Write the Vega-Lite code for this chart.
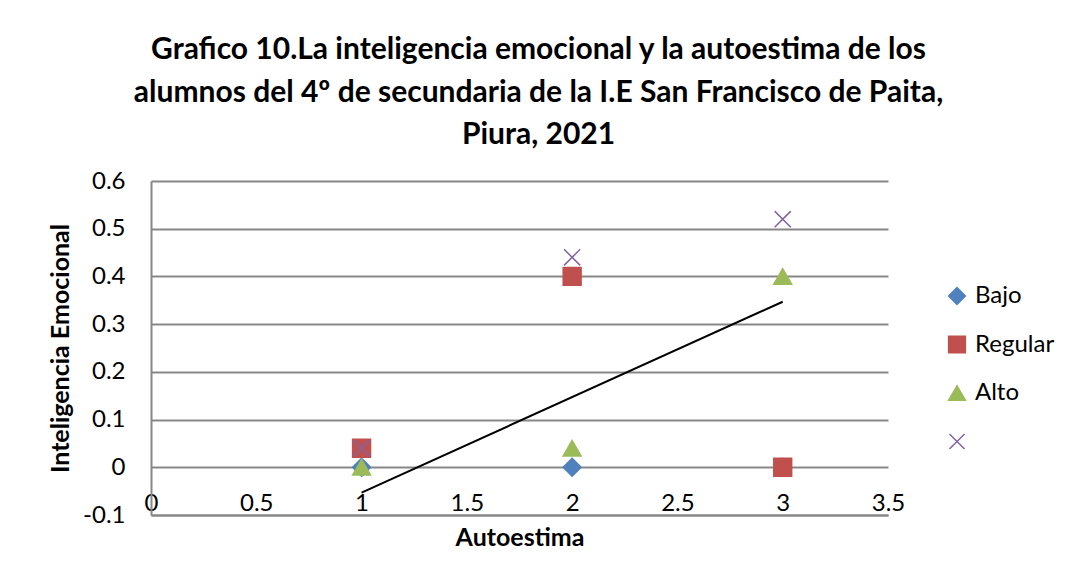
{
  "$schema": "https://vega.github.io/schema/vega-lite/v6.json",
  "width": 737,
  "height": 334,
  "autosize": {"type": "none"},
  "padding": {"left": 151, "top": 181, "right": 192, "bottom": 62},
  "background": "white",
  "config": {
    "font": "Lato",
    "view": {"stroke": null},
    "axis": {"labelColor": "black", "titleColor": "black", "labelFont": "Lato", "titleFont": "Lato"}
  },
  "title": {
    "text": ["Grafico  10.La inteligencia emocional y la autoestima de los", "alumnos del 4º de secundaria  de la I.E San Francisco de Paita,", "Piura, 2021"],
    "font": "Lato",
    "fontSize": 30,
    "fontWeight": "bold",
    "color": "black",
    "anchor": "middle",
    "frame": "group",
    "dx": 19,
    "offset": 19,
    "lineHeight": 42.5
  },
  "layer": [
    {
      "data": {"values": [
        {"Autoestima": 1, "Inteligencia": 0, "serie": "Bajo"},
        {"Autoestima": 2, "Inteligencia": 0, "serie": "Bajo"},
        {"Autoestima": 3, "Inteligencia": 0, "serie": "Bajo"},
        {"Autoestima": 1, "Inteligencia": 0.04, "serie": "Regular"},
        {"Autoestima": 2, "Inteligencia": 0.4, "serie": "Regular"},
        {"Autoestima": 3, "Inteligencia": 0, "serie": "Regular"},
        {"Autoestima": 1, "Inteligencia": 0, "serie": "Alto"},
        {"Autoestima": 2, "Inteligencia": 0.04, "serie": "Alto"},
        {"Autoestima": 3, "Inteligencia": 0.4, "serie": "Alto"},
        {"Autoestima": 1, "Inteligencia": 0.04, "serie": " "},
        {"Autoestima": 2, "Inteligencia": 0.44, "serie": " "},
        {"Autoestima": 3, "Inteligencia": 0.52, "serie": " "}
      ]},
      "mark": {"type": "point", "filled": true, "opacity": 1, "strokeWidth": 1.5, "size": 320},
      "encoding": {
        "x": {
          "field": "Autoestima", "type": "quantitative",
          "scale": {"domain": [0, 3.5], "nice": false, "zero": false},
          "axis": {
            "title": "Autoestima", "titleFontSize": 25, "titleFontWeight": "bold",
            "titleBaseline": "middle", "titleY": 22,
            "values": [0, 0.5, 1, 1.5, 2, 2.5, 3, 3.5],
            "labelExpr": "datum.value + ''",
            "labelFontSize": 24, "labelBaseline": "middle", "labelPadding": -12,
            "ticks": false, "tickSize": 0, "grid": false,
            "domainColor": "#878787", "domainWidth": 2,
            "labelFlush": false, "labelOverlap": false
          }
        },
        "y": {
          "field": "Inteligencia", "type": "quantitative",
          "scale": {"domain": [-0.1, 0.6], "nice": false, "zero": false},
          "axis": {
            "title": "Inteligencia Emocional", "titleFontSize": 25, "titleFontWeight": "bold",
            "titlePadding": 9,
            "values": [-0.1, 0, 0.1, 0.2, 0.3, 0.4, 0.5, 0.6],
            "labelExpr": "datum.value + ''",
            "labelFontSize": 24, "labelPadding": 26,
            "ticks": false, "tickSize": 0,
            "grid": true, "gridColor": "#878787", "gridWidth": 2,
            "domainColor": "#878787", "domainWidth": 2,
            "labelFlush": false, "labelOverlap": false
          }
        },
        "fill": {
          "field": "serie", "type": "nominal",
          "scale": {"domain": ["Bajo", "Regular", "Alto", " "], "range": ["#4F81BD", "#C0504D", "#9BBB59", "transparent"]},
          "legend": {
            "title": null, "orient": "none", "legendX": 794, "legendY": 103,
            "labelFontSize": 24, "labelFont": "Lato", "labelColor": "black",
            "symbolSize": 280, "symbolStrokeWidth": 1.5, "rowPadding": 24.5, "labelOffset": 6
          }
        },
        "stroke": {
          "field": "serie", "type": "nominal",
          "scale": {"domain": ["Bajo", "Regular", "Alto", " "], "range": ["#4F81BD", "#C0504D", "#9BBB59", "#8064A2"]}
        },
        "shape": {
          "field": "serie", "type": "nominal",
          "scale": {"domain": ["Bajo", "Regular", "Alto", " "], "range": ["diamond", "square", "triangle-up", "M-0.9,-0.9L0.9,0.9M-0.9,0.9L0.9,-0.9"]}
        }
      }
    },
    {
      "data": {"values": [
        {"Autoestima": 1, "Inteligencia": -0.053},
        {"Autoestima": 3, "Inteligencia": 0.347}
      ]},
      "mark": {"type": "line", "color": "black", "strokeWidth": 2},
      "encoding": {
        "x": {"field": "Autoestima", "type": "quantitative"},
        "y": {"field": "Inteligencia", "type": "quantitative"}
      }
    }
  ]
}
